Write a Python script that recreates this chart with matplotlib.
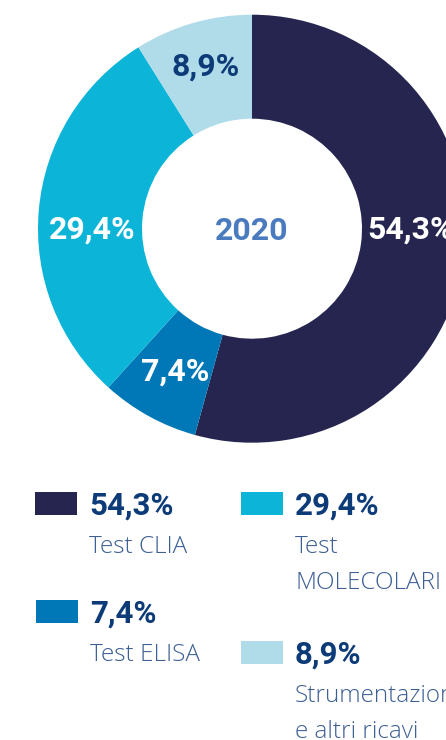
import numpy as np
import matplotlib
matplotlib.use("Agg")
import matplotlib.pyplot as plt
from matplotlib.patches import Rectangle

# data
categories = ["Test CLIA", "Test ELISA", "Test\nMOLECOLARI", "Strumentazioni\ne altri ricavi"]
values = [54.3, 7.4, 29.4, 8.9]
colors = ["#252550", "#0077b6", "#0cb5d8", "#b0dcea"]
label_colors = ["white", "white", "white", "#0d3b78"]
year = "2020"

W, H = 446, 740
fig = plt.figure(figsize=(W / 100, H / 100), dpi=100)
ax = fig.add_axes([0, 0, 1, 1])

cx, cy = 252, H - 228.7
R = 214
ring = 104

ax.pie(values, colors=colors, startangle=90, counterclock=False,
       center=(cx, cy), radius=R, frame=True,
       wedgeprops=dict(width=ring, linewidth=0))
ax.set_xlim(0, W)
ax.set_ylim(0, H)
ax.set_aspect("equal")
ax.axis("off")

def fmt(v):
    return "{:.1f}%".format(v).replace(".", ",")

# label angles (big slices are centred on the horizontal)
label_angles = [0, 241.5, 180, 106]
label_r = [159, 161, 160, 170]
for v, a, r, c in zip(values, label_angles, label_r, label_colors):
    x = cx + r * np.cos(np.radians(a))
    y = cy + r * np.sin(np.radians(a))
    ax.text(x, y - 1, fmt(v), color=c, fontsize=23, fontweight="bold",
            family="Roboto", ha="center", va="center")

ax.text(cx, cy - 2, year, color="#4a7bbf", fontsize=23, fontweight="bold",
        family="Roboto", ha="center", va="center")

# legend, two columns laid out by hand
sw, sh = 42, 23
legend_pos = [(35, 492.3), (36, 600), (241, 492.3), (241, 641)]
for (lx, ly), v, c, name in zip(legend_pos, values, colors, categories):
    ax.add_patch(Rectangle((lx, H - ly - sh), sw, sh, color=c, lw=0, clip_on=False))
    tx = lx + 54
    ax.text(tx, H - ly - 22.5, fmt(v), color="#0d3b78", fontsize=22.5, fontweight="bold",
            family="Roboto", ha="left", va="baseline")
    for i, line in enumerate(name.split("\n")):
        ax.text(tx, H - ly - 61 - 36 * i, line, color="#3d5f94", fontsize=17.5,
                fontweight="light", family="Open Sans", ha="left", va="baseline")

fig.savefig("out.png", dpi=100)
